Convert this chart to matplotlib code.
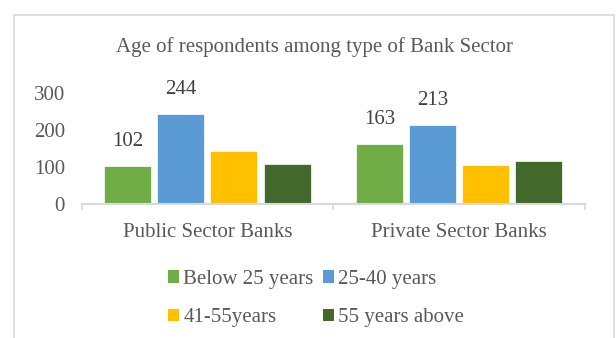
import matplotlib
matplotlib.use("Agg")
import matplotlib.pyplot as plt
from matplotlib.patches import Rectangle, Patch
import numpy as np

categories = ["Public Sector Banks", "Private Sector Banks"]
series_names = ["Below 25 years", "25-40 years", "41-55years", "55 years above"]
below_25 = [102, 163]
age_25_40 = [244, 213]
age_41_55 = [144, 105]
above_55 = [108, 117]
series_values = [below_25, age_25_40, age_41_55, above_55]
labelled_series = [0, 1]  # series that carry value labels
y_ticks = [0, 100, 200, 300]

colors = ["#70ad47", "#5b9bd5", "#ffc000", "#43682b"]
text_gray = "#595959"
label_gray = "#404040"
line_gray = "#d9d9d9"
fs = 15

plt.rcParams["font.family"] = ["Liberation Serif", "DejaVu Serif"]

fig = plt.figure(figsize=(6.16, 3.38), dpi=100)
W, H = 616, 338

# chart frame
fig.patches.append(Rectangle((14 / W, -0.05), (614 - 14) / W, (338 - 15) / H + 0.05,
                             transform=fig.transFigure, fill=False,
                             edgecolor=line_gray, linewidth=1.2))

ax = fig.add_axes([81.5 / W, (H - 204) / H, (585 - 81.5) / W, (204 - 93) / H])

x = np.arange(len(categories))
bar_w = 0.187
step = 0.211
for i, (name, vals) in enumerate(zip(series_names, series_values)):
    pos = x + (i - 1.5) * step
    bars = ax.bar(pos, vals, width=bar_w, color=colors[i], label=name,
                  edgecolor="white", linewidth=0.5, zorder=2)
    if i in labelled_series:
        for b, v in zip(bars, vals):
            ax.annotate(str(v), (b.get_x() + b.get_width() / 2, v),
                        xytext=(0, 17.5), textcoords="offset points",
                        ha="center", va="center", fontsize=fs, color=label_gray)

ax.set_xlim(-0.5, 1.5)
ax.set_ylim(0, 300)
ax.set_yticks(y_ticks)
ax.tick_params(axis="y", length=0, pad=12, labelsize=fs, labelcolor=text_gray)

ax.set_xticks([-0.5, 0.5, 1.5])
ax.set_xticklabels([])
ax.tick_params(axis="x", which="major", length=4.5, width=1.2, color=line_gray, direction="out")
ax.set_xticks(x, minor=True)
ax.set_xticklabels(categories, minor=True)
ax.tick_params(axis="x", which="minor", length=0, pad=13.5, labelsize=fs, labelcolor=text_gray)

for s in ["top", "right", "left"]:
    ax.spines[s].set_visible(False)
ax.spines["bottom"].set_color(line_gray)
ax.spines["bottom"].set_linewidth(1.5)

fig.text(314 / W, 1 - 47 / H, "Age of respondents among type of Bank Sector",
         ha="center", va="center", fontsize=fs, color=text_gray)

# legend laid out row by row
order = [0, 2, 1, 3]
handles = [Patch(facecolor=colors[k], edgecolor="none") for k in order]
labels = [series_names[k] for k in order]
leg = fig.legend(handles, labels, ncol=2, loc="center",
                 bbox_to_anchor=(316 / W, 1 - 298.5 / H),
                 frameon=False, fontsize=fs, handlelength=0.55, handleheight=0.55,
                 handletextpad=0.2, columnspacing=0.45, labelspacing=0.95,
                 borderpad=0)
for t in leg.get_texts():
    t.set_color(text_gray)

fig.savefig("out.png", dpi=100)
